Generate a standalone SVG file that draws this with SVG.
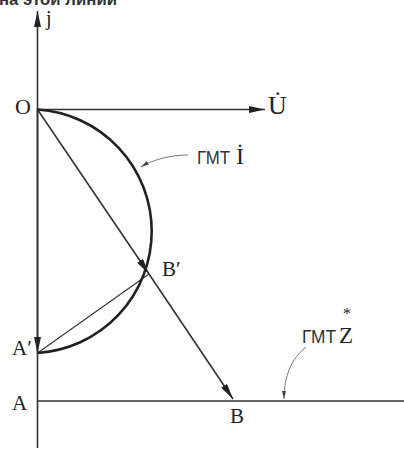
<svg xmlns="http://www.w3.org/2000/svg" width="404" height="450" viewBox="0 0 404 450">
<style>
.ax{stroke:#333;stroke-width:1.6;fill:none}
.thin{stroke:#333;stroke-width:1.1;fill:none}
.arc{stroke:#222;stroke-width:2.6;fill:none}
.lead{stroke:#555;stroke-width:0.8;fill:none}
.lbl{font-family:"Liberation Serif","DejaVu Serif",serif;fill:#222}
.sans{font-family:"Liberation Sans","Arial",sans-serif;fill:#333}
</style>
<defs>
<marker id="ah" markerUnits="userSpaceOnUse" viewBox="0 0 16 7" refX="16" refY="3.5" markerWidth="16" markerHeight="7" orient="auto">
<path d="M0,0 L16,3.5 L0,7 z" fill="#222"/>
</marker>
<marker id="ahs" markerUnits="userSpaceOnUse" viewBox="0 0 8 4" refX="8" refY="2" markerWidth="8" markerHeight="4" orient="auto">
<path d="M0,0 L8,2 L0,4 z" fill="#444"/>
</marker>
</defs>
<text class="sans" x="-1" y="4.5" font-size="17" font-weight="bold" textLength="118" lengthAdjust="spacingAndGlyphs">на этой линии</text>
<g id="connectors">
<line class="ax" x1="37.5" y1="448" x2="37.5" y2="11" marker-end="url(#ah)"/>
<line class="ax" x1="37.5" y1="109.5" x2="37.5" y2="353" marker-end="url(#ah)"/>
<line class="ax" x1="37.5" y1="109.5" x2="265" y2="109.5" marker-end="url(#ah)"/>
<line class="ax" x1="37.5" y1="401" x2="404" y2="401"/>
<line class="ax" x1="37.5" y1="109.5" x2="149" y2="274" marker-end="url(#ah)"/>
<line class="ax" x1="149" y1="274" x2="233" y2="399" marker-end="url(#ah)"/>
<line class="thin" x1="149" y1="274" x2="37.5" y2="353"/>
<path class="arc" d="M37.5,109.5 A122,122 0 0 1 37.5,353"/>
<path class="lead" d="M188,155 C170,155 152,160 141,167" marker-end="url(#ahs)"/>
<path class="lead" d="M306,347 C292,358 284,375 284,399" marker-end="url(#ahs)"/>
</g>
<g id="node-j"><text class="lbl" x="46" y="25" font-size="20">j</text></g>
<g id="node-O"><text class="lbl" x="15" y="114" font-size="22">O</text></g>
<g id="node-U"><text class="lbl" x="268" y="114" font-size="26">U̇</text></g>
<g id="node-GMT-I"><text class="sans" x="197" y="164" font-size="19" textLength="33" lengthAdjust="spacingAndGlyphs">ГМТ</text><text class="lbl" x="236" y="164" font-size="24">İ</text></g>
<g id="node-Bp"><text class="lbl" x="162" y="276" font-size="21">B′</text></g>
<g id="node-Ap"><text class="lbl" x="12" y="355" font-size="21">A′</text></g>
<g id="node-A"><text class="lbl" x="12" y="410" font-size="21">A</text></g>
<g id="node-B"><text class="lbl" x="230" y="423" font-size="21">B</text></g>
<g id="node-GMT-Z"><text class="sans" x="302" y="343" font-size="19" textLength="34" lengthAdjust="spacingAndGlyphs">ГМТ</text><text class="lbl" x="339" y="343" font-size="23">Z</text><text class="lbl" x="343" y="319" font-size="16">*</text></g>
</svg>
